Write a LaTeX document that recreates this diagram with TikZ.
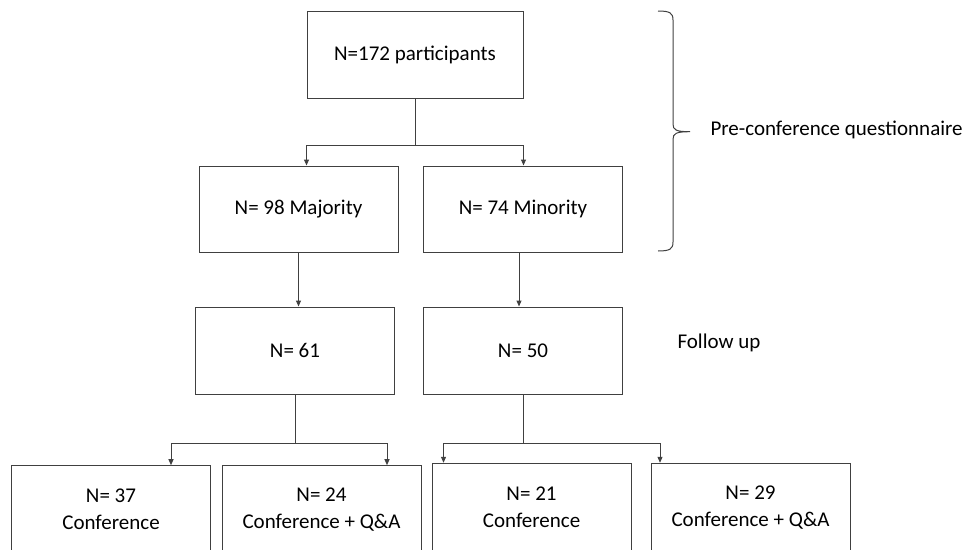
\documentclass[tikz,border=0pt]{standalone}
\usepackage{fontspec}
\setmainfont{Carlito}
\usepackage{xcolor}
\usetikzlibrary{arrows.meta, positioning, calc}
\definecolor{linegray}{HTML}{404040}

\begin{document}
\begin{tikzpicture}[x=1pt, y=-1pt, line width=1pt,
    box/.style={rectangle, draw=linegray, minimum width=199pt, minimum height=88pt,
        inner sep=0pt, align=center, font=\fontsize{21}{27}\selectfont},
    note/.style={inner sep=0pt, anchor=west, font=\fontsize{21}{27}\selectfont},
    arr/.style={draw=linegray, -{Triangle[length=6pt, width=5pt]}}]
    \clip (0,0) rectangle (974,549);
    % boxes
    \node[box, minimum width=216pt, minimum height=87pt] (all) at (415,54.5) {N=172 participants};
    \node[box, minimum height=86pt] (maj) at (298.5,209) {N= 98 Majority};
    \node[box, minimum height=86pt] (mino) at (523,209) {N= 74 Minority};
    \node[box, minimum height=87pt] (fmaj) at (295,350.5) {N= 61};
    \node[box, minimum height=87pt] (fmin) at (523,350.5) {N= 50};
    \node[box] (cmaj) at (111,509.7) {N= 37\\Conference};
    \node[box] (qmaj) at (321.5,509.7) {N= 24\\Conference + Q\&A};
    \node[box] (cmin) at (531.5,507.3) {N= 21\\Conference};
    \node[box] (qmin) at (750.5,507.3) {N= 29\\Conference + Q\&A};
    % labels
    \node[note] (pre) at (710,130) {Pre-conference questionnaire};
    \node[note] (fup) at (677,343) {Follow up};
    % links
    \draw[arr] (all.south) -- ++(0,47) -| (all.west |- maj.north);
    \draw[arr] (all.south) -- ++(0,47) -| (all.east |- mino.north);
    \draw[arr] (maj.south) -- (maj.south |- fmaj.north);
    \draw[arr] ([xshift=-4pt]mino.south) -- ([xshift=-4pt]mino.south |- fmin.north);
    \draw[arr] (fmaj.south) -- ++(0,49) -| ([xshift=60pt]cmaj.north);
    \draw[arr] (fmaj.south) -- ++(0,49) -| ([xshift=65.5pt]qmaj.north);
    \draw[arr] (fmin.south) -- ++(0,49) -| ([xshift=-88pt]cmin.north);
    \draw[arr] (fmin.south) -- ++(0,49) -| ([xshift=-90.5pt]qmin.north);
    % brace
    \coordinate (bt) at (658,11);
    \coordinate (tip) at (690,131.7);
    \coordinate (bb) at (658,251);
    \draw[linegray] (bt) .. controls (670,11) and (673,13) .. (673,20) -- (673,124)
        .. controls (673,130) and (676,131.7) .. (tip)
        .. controls (676,131.7) and (673,133.4) .. (673,139.4) -- (673,242)
        .. controls (673,249) and (670,251) .. (bb);
\end{tikzpicture}
\end{document}
